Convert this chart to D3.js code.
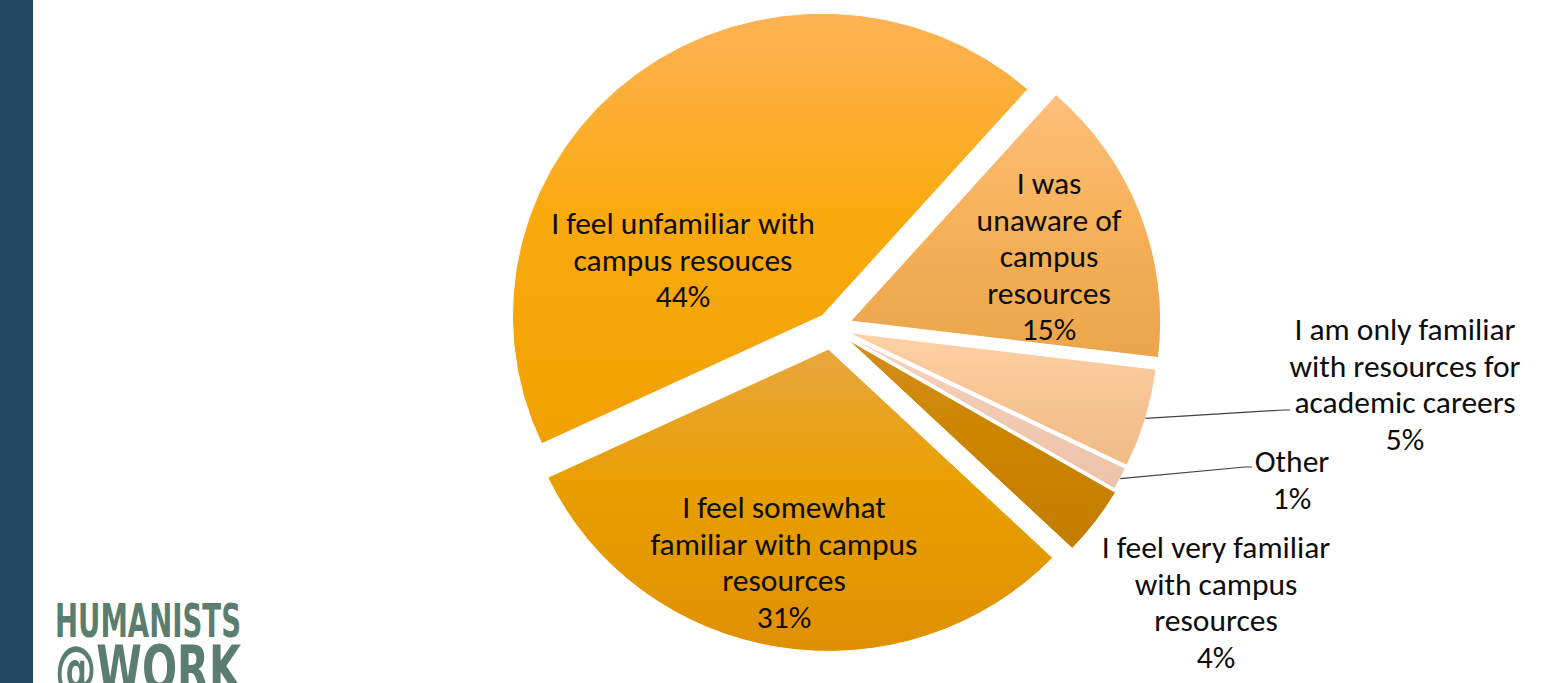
<!DOCTYPE html>
<html>
<head>
<meta charset="utf-8">
<script src="https://cdn.jsdelivr.net/npm/d3@7"></script>
<style>
  html, body { margin: 0; padding: 0; background: #ffffff; }
  svg { display: block; }
</style>
</head>
<body>
<svg id="chart" width="1567" height="683"></svg>
<script>
// ---------- data ----------
const categories = [
  "I was unaware of campus resources",
  "I am only familiar with resources for academic careers",
  "Other",
  "I feel very familiar with campus resources",
  "I feel somewhat familiar with campus resources",
  "I feel unfamiliar with campus resouces"
];
const values = [15.4, 5.3, 1.2, 3.7, 30.9, 43.5];
const labelLines = [
  ["I was", "unaware of", "campus", "resources"],
  ["I am only familiar", "with resources for", "academic careers"],
  ["Other"],
  ["I feel very familiar", "with campus", "resources"],
  ["I feel somewhat", "familiar with campus", "resources"],
  ["I feel unfamiliar with", "campus resouces"]
];

// ---------- layout / style (not data) ----------
const W = 1567, H = 683;
const center = [832, 328];
const radius = 310;
const yScale = 0.975;
const startDeg = 41.5;
const explode = [20, 17, 17, 20, 22, 16];
const gradStops = [
  ["#fdbf7c", "#f7b25a", "#eba54a"],
  ["#ffd1a6", "#f8c595", "#efbb86"],
  ["#f5d6c2", "#f1cbb4", "#edc3a8"],
  ["#d38f1e", "#cc8500", "#c47c00"],
  ["#e9a63e", "#e89f00", "#df9000"],
  ["#fdb256", "#fbab10", "#f0a000"]
];
const labelPos = [[1049, 183], [1405, 329], [1292, 461], [1216, 547], [784, 507], [683, 223]];
const leaderEnd = [null, [[1283, 410], [1290, 410]], [[1245, 467], [1252, 467]], null, null, null];
const lineH = 36.5;
const fontSize = 31.5;

const svg = d3.select("#chart");
svg.append("rect").attr("width", W).attr("height", H).attr("fill", "#ffffff");

// left bar
svg.append("rect").attr("x", 0).attr("y", 0).attr("width", 33).attr("height", H).attr("fill", "#21485f");

// logo
const logo = svg.append("g").attr("fill", "#5a7d70")
  .style("font-family", "'DejaVu Sans Condensed', 'DejaVu Sans', sans-serif")
  .style("font-weight", "bold");
logo.append("text").attr("x", 55).attr("y", 637).attr("font-size", 47)
  .attr("textLength", 186).attr("lengthAdjust", "spacingAndGlyphs").text("HUMANISTS");
logo.append("text").attr("x", 55).attr("y", 690).attr("font-size", 62)
  .attr("textLength", 186).attr("lengthAdjust", "spacingAndGlyphs").text("@WORK");

// gradients
const defs = svg.append("defs");
gradStops.forEach((stops, i) => {
  const g = defs.append("linearGradient").attr("id", "grad" + i)
    .attr("x1", 0).attr("y1", 0).attr("x2", 0).attr("y2", 1);
  g.append("stop").attr("offset", "0%").attr("stop-color", stops[0]);
  g.append("stop").attr("offset", "45%").attr("stop-color", stops[1]);
  g.append("stop").attr("offset", "100%").attr("stop-color", stops[2]);
});

// pie
const total = d3.sum(values);
const a0 = startDeg * Math.PI / 180;
const pie = d3.pie().sort(null).value(d => d).startAngle(a0).endAngle(a0 + 2 * Math.PI);
const arcs = pie(values);
const arc = d3.arc().innerRadius(0).outerRadius(radius);

const pieG = svg.append("g")
  .attr("transform", `translate(${center[0]},${center[1]}) scale(1,${yScale})`);

pieG.selectAll("path.slice").data(arcs).join("path")
  .attr("class", "slice")
  .attr("d", arc)
  .attr("fill", (d, i) => `url(#grad${i})`)
  .attr("stroke", "#ffffff").attr("stroke-width", 1)
  .attr("transform", (d, i) => {
    const m = (d.startAngle + d.endAngle) / 2;
    return `translate(${Math.sin(m) * explode[i]},${-Math.cos(m) * explode[i]})`;
  });

// leader lines
arcs.forEach((d, i) => {
  if (!leaderEnd[i]) return;
  const m = (d.startAngle + d.endAngle) / 2;
  const rr = radius + explode[i];
  const sx = center[0] + Math.sin(m) * rr;
  const sy = center[1] - Math.cos(m) * rr * yScale;
  const pts = [[sx, sy]].concat(leaderEnd[i]);
  svg.append("path").attr("d", d3.line()(pts))
    .attr("fill", "none").attr("stroke", "#404040").attr("stroke-width", 1.2);
});

// labels
const fmt = d3.format(".0%");
const labG = svg.append("g")
  .style("font-family", "Carlito, Calibri, Lato, 'Open Sans', sans-serif")
  .attr("font-size", fontSize).attr("fill", "#0d0d0d").attr("text-anchor", "middle");
arcs.forEach((d, i) => {
  const lines = labelLines[i].concat([fmt(values[i] / total)]);
  const t = labG.append("text").attr("x", labelPos[i][0]).attr("y", labelPos[i][1]);
  lines.forEach((ln, k) => {
    t.append("tspan").attr("x", labelPos[i][0])
      .attr("y", labelPos[i][1] + k * lineH)
      .attr("dy", "0.35em").text(ln);
  });
});
</script>
</body>
</html>
